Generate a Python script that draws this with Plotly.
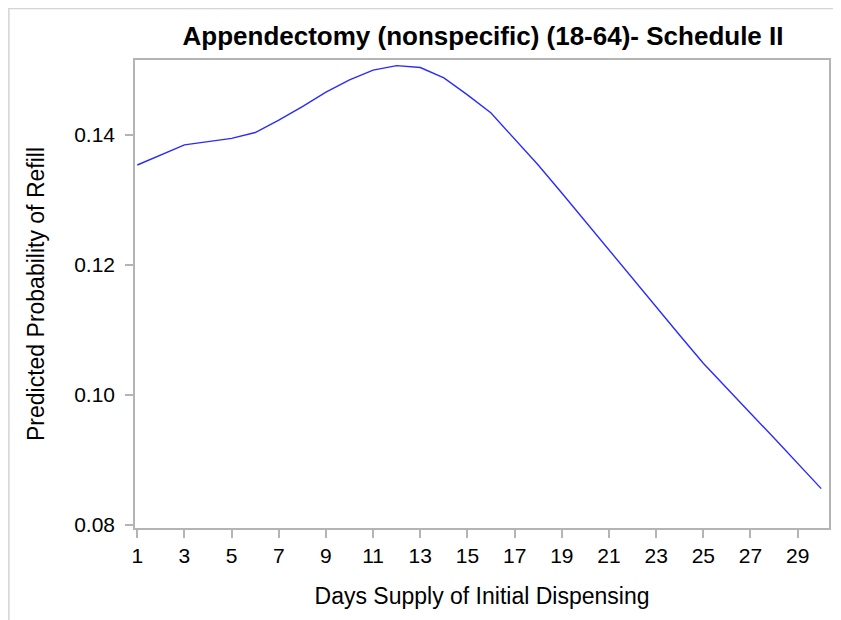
import plotly.graph_objects as go

# ---------- Data ----------
days = list(range(1, 31))
prob = [
    0.1354, 0.1369, 0.1385, 0.1390, 0.1395, 0.1404, 0.1423, 0.1444, 0.1466, 0.1485,
    0.1500, 0.1507, 0.1504, 0.1488, 0.1462, 0.1434, 0.1394, 0.1354, 0.1311, 0.1267,
    0.1223, 0.1179, 0.1135, 0.1092, 0.1049, 0.1010, 0.0972, 0.0934, 0.0895, 0.0856,
]
x_ticks = list(range(1, 30, 2))
y_ticks = [0.08, 0.10, 0.12, 0.14]

title = "Appendectomy (nonspecific) (18-64)- Schedule II"
x_title = "Days Supply of Initial Dispensing"
y_title = "Predicted Probability of Refill"

axis_col = "#b4b4b4"
font_family = "Arial, Liberation Sans, sans-serif"

# page body has an 8px margin, so the figure is 8px smaller and everything shifts
W, H = 833, 612
L, R, T, B = 127, 10, 52, 92
pw, ph = W - L - R, H - T - B

fig = go.Figure()
fig.add_trace(go.Scatter(
    x=days, y=prob, mode="lines",
    line=dict(color="#2b2bff", width=1.4),
    showlegend=False,
))

fig.update_layout(
    width=W, height=H,
    paper_bgcolor="white", plot_bgcolor="white",
    margin=dict(l=L, r=R, t=T, b=B),
    font=dict(family=font_family, color="black"),
    title=dict(
        text=f"<b>{title}</b>",
        x=(L + pw / 2) / W, xanchor="center",
        y=1 - 27.5 / H, yanchor="middle",
        font=dict(size=26, family=font_family, color="black"),
    ),
    shapes=[dict(
        type="rect", xref="paper", yref="paper",
        x0=(0.5 - L) / pw, x1=1.2, y0=-0.5, y1=(ph + T - 0.5) / ph,
        line=dict(color="#d4d4d4", width=1.5), fillcolor="rgba(0,0,0,0)",
        layer="below",
    )],
)

fig.update_xaxes(
    range=[0.903, 30.33],
    tickvals=x_ticks, ticktext=[str(v) for v in x_ticks],
    showline=True, linecolor=axis_col, linewidth=1.5, mirror=True,
    ticks="outside", ticklen=8, tickcolor=axis_col, tickwidth=1.5,
    showgrid=False, zeroline=False,
    tickfont=dict(size=21),
    title=dict(text=x_title, font=dict(size=23), standoff=22),
)
fig.update_yaxes(
    range=[0.07954, 0.15156],
    tickvals=y_ticks, ticktext=[f"{v:.2f}" for v in y_ticks],
    showline=True, linecolor=axis_col, linewidth=1.5, mirror=True,
    ticks="outside", ticklen=8, tickcolor=axis_col, tickwidth=1.5,
    ticklabelstandoff=6,
    showgrid=False, zeroline=False,
    tickfont=dict(size=21),
    title=dict(text=y_title, font=dict(size=23), standoff=23),
)

fig.write_html("out.html")
